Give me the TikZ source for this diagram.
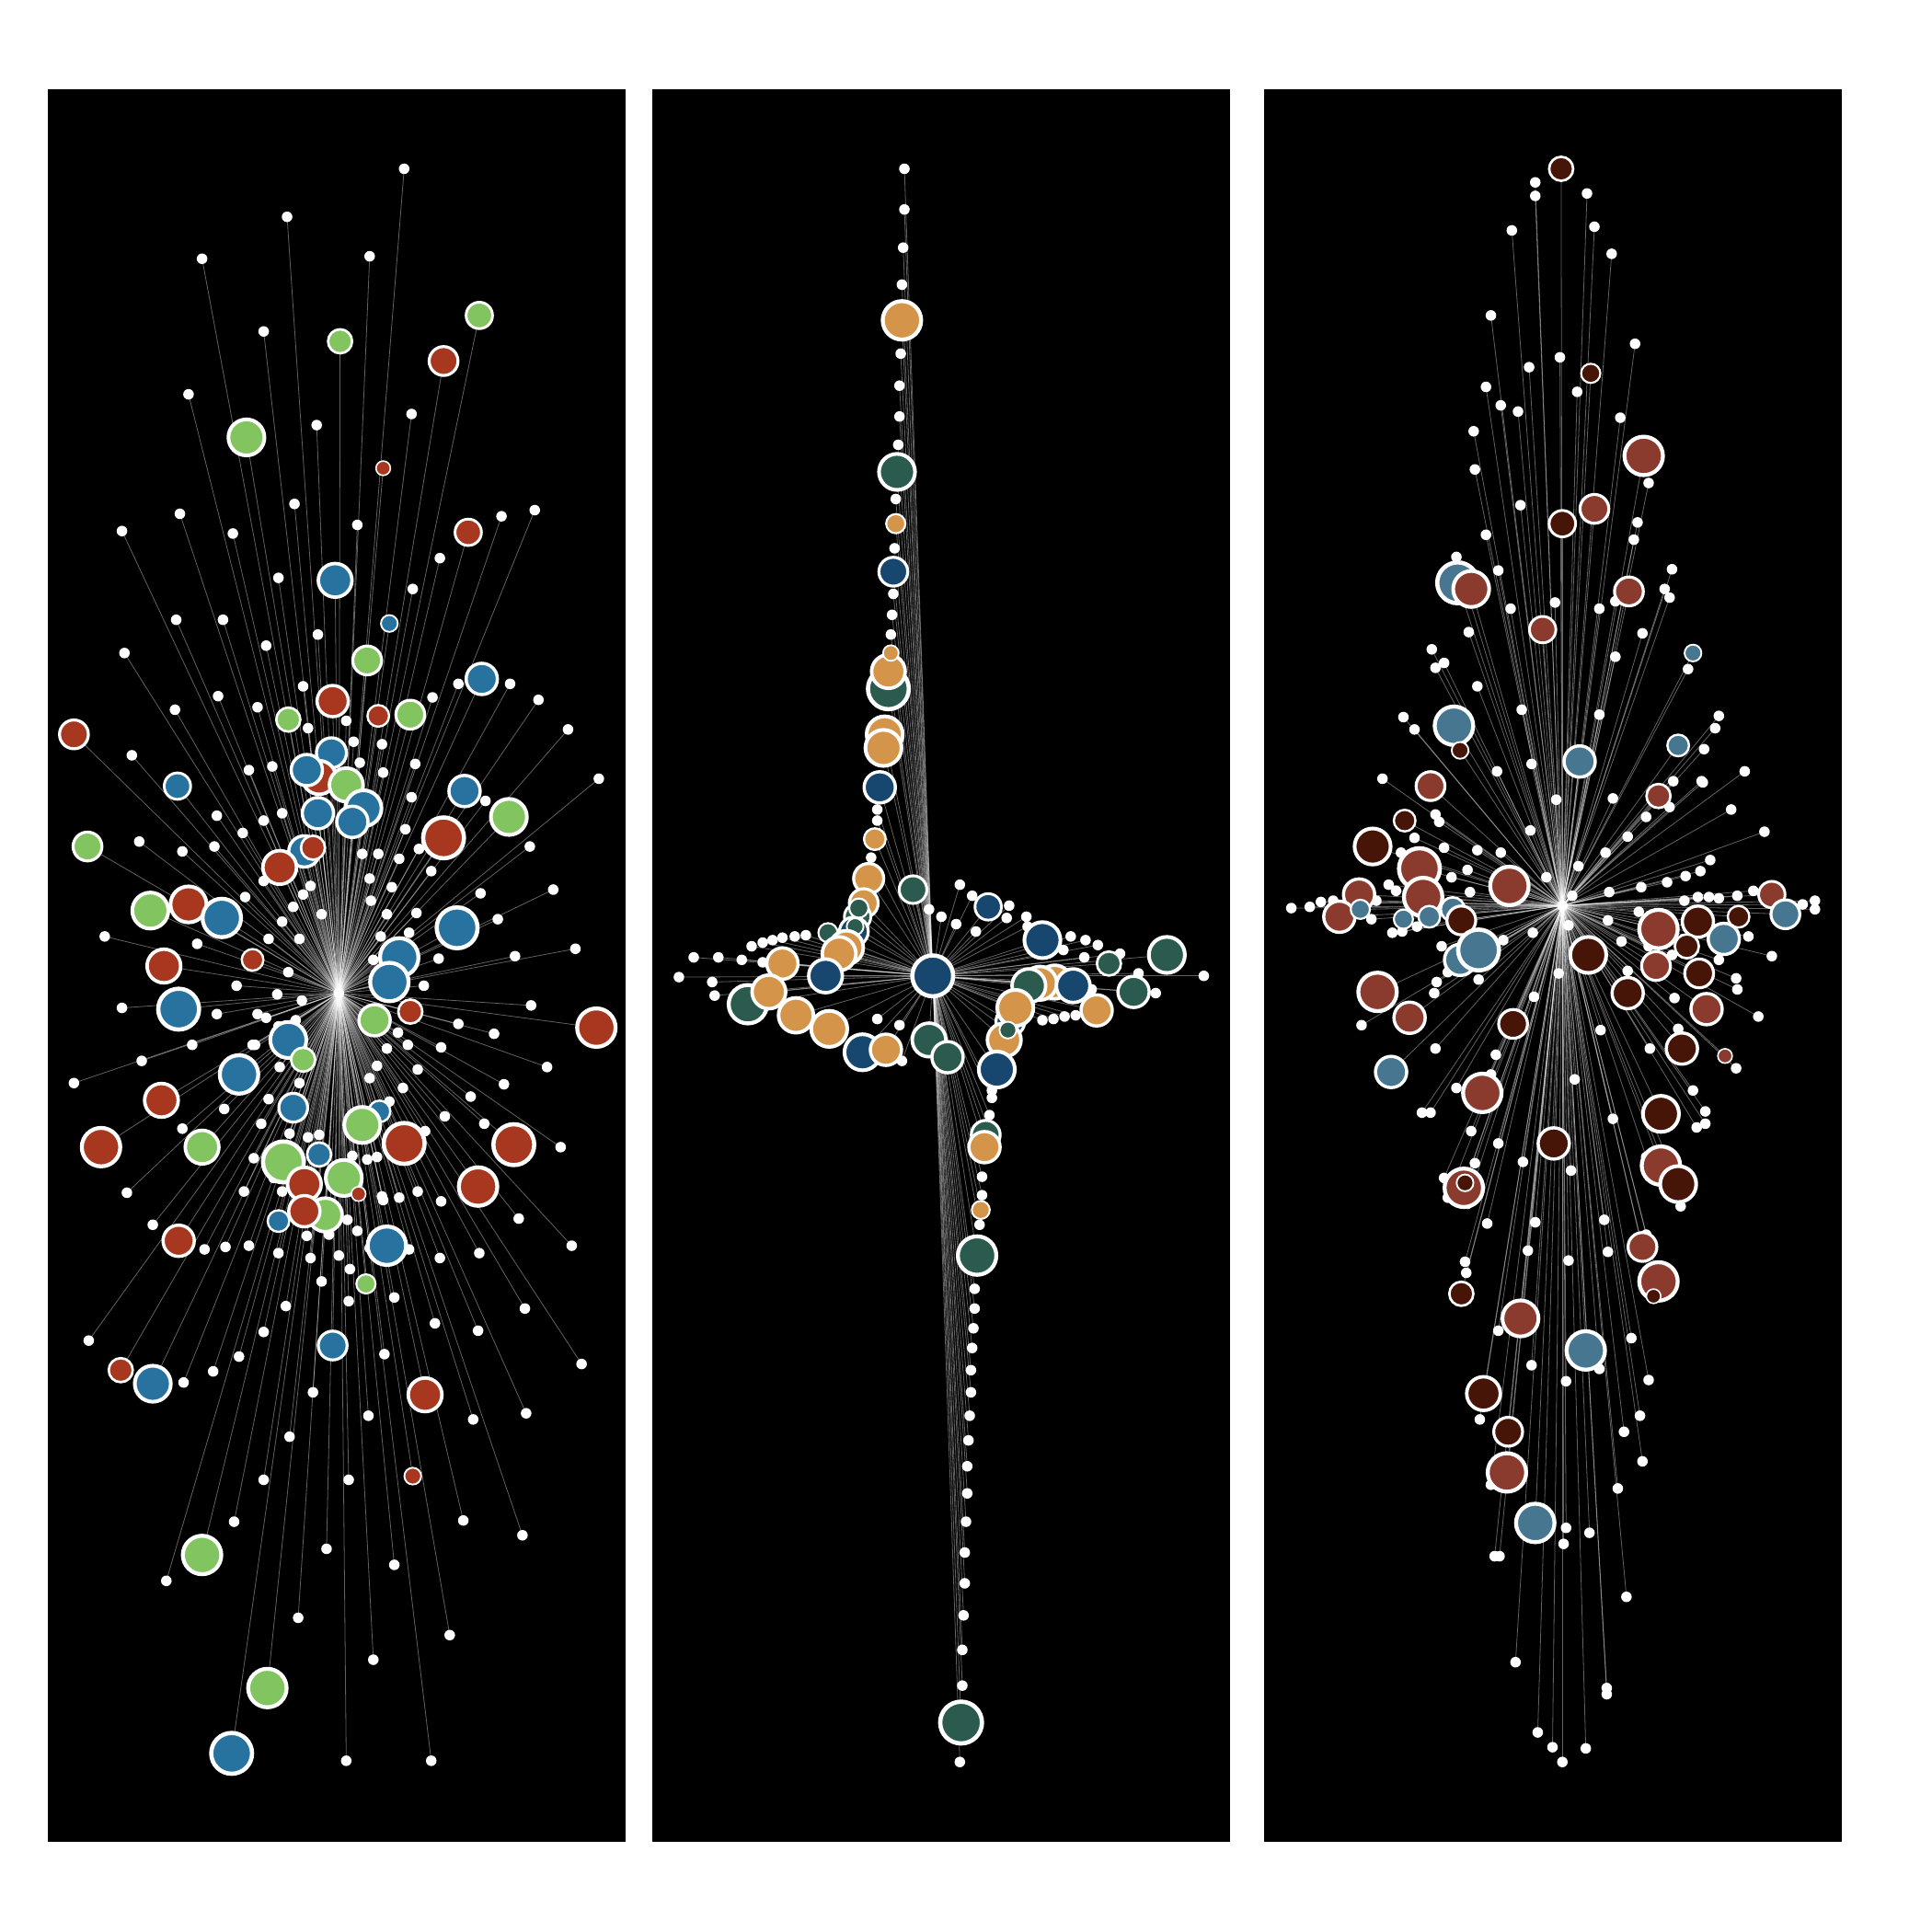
\documentclass[tikz,border=0pt]{standalone}
\pgfdeclarelayer{bg}
\pgfsetlayers{bg,main}
\definecolor{ared}{HTML}{A8371F}
\definecolor{ablue}{HTML}{2872A0}
\definecolor{agreen}{HTML}{82C460}
\definecolor{borange}{HTML}{D4954A}
\definecolor{bteal}{HTML}{2B5A4E}
\definecolor{bnavy}{HTML}{17466E}
\definecolor{cred}{HTML}{8B3A2E}
\definecolor{cbrown}{HTML}{461508}
\definecolor{cblue}{HTML}{477690}
\tikzset{
  wd/.style={circle,fill=white,inner sep=0pt,minimum size=8.6pt},
  cn/.style n args={2}{circle,fill=#2,draw=white,line width={0.2*#1},minimum size={1.95*#1},inner sep=0pt},
  edge/.style={draw=white,line width=0.6pt,opacity=0.38},
  panel/.style={fill=black}}
\def\Awhite{328/137, 233/176, 164/210, 300/208, 214/269, 153/320, 334/336, 257/345, 239/409, 99/431, 146/417, 189/433, 290/426, 407/419, 434/414, 357/453, 226/469, 335/478, 143/503, 101/530, 181/503, 216/524, 258/515, 177/565, 142/576, 209/574, 246/557, 351/566, 437/568, 372/555, 414/555, 461/592, 107/613, 202/625, 176/662, 113/683, 148/691, 174/687, 214/666, 229/660, 340/689, 390/725, 350/707, 404/746, 449/722, 430/687, 486/632, 85/760, 160/766, 218/762, 243/762, 261/742, 300/713, 318/720, 338/741, 356/778, 418/776, 467/770, 99/818, 176/823, 209/823, 344/800, 372/831, 431/816, 115/861, 156/848, 207/848, 226/833, 314/851, 331/848, 358/850, 409/880, 444/866, 60/879, 148/916, 212/912, 218/892, 339/868, 382/890, 345/918, 393/912, 455/931, 103/968, 198/967, 222/956, 310/971, 339/967, 358/975, 421/989, 124/994, 166/1014, 183/1012, 202/1011, 226/1017, 252/1021, 275/1019, 261/1040, 300/1013, 357/1021, 389/1017, 464/1011, 232/1060, 283/1056, 320/1053, 426/1062, 72/1088, 214/1081, 353/1074, 388/1080, 194/1101, 312/1099, 149/1122, 173/1113, 472/1107, 254/1130, 235/1166, 299/1149, 384/1152, 427/1147, 214/1201, 283/1201, 376/1234, 424/1246, 190/1235, 265/1257, 320/1270, 135/1283, 242/1313, 365/1327, 303/1347, 281/1429, 350/1429, 250/591, 281/585, 287/602, 310/604, 337/620, 311/627, 292/619, 221/622, 334/647, 394/650, 197/676, 329/673, 294/693, 307/693, 324/697, 214/715, 252/719, 246/726, 199/728, 238/736, 301/731, 229/748, 314/742, 309/760, 332/757, 192/800, 225/807, 245/812, 303/779, 216/826, 240/828, 234/789, 401/839, 323/838, 205/848, 306/865, 227/866, 300/875, 327/883, 243/879, 182/900, 316/894, 361/906, 235/920, 250/923, 259/921, 206/940, 286/938, 298/941, 306/939, 229/967, 311/974, 324/972, 282/990, 290/999, 249/1003, 267/1002, 284/1030, 332/1014}
\def\Acol{389/256/11/agreen, 276/277/10/agreen, 360/293/12/ared, 200/355/15/agreen, 311/380/6/ared, 380/432/11/ared, 272/471/14/ablue, 316/506/7/ablue, 298/536/12/agreen, 391/551/13/ablue, 270/569/13/ared, 307/581/9/ared, 234/584/10/agreen, 333/580/12/agreen, 60/596/12/ared, 144/638/11/ablue, 377/642/13/ablue, 269/611/12.5/ablue, 259/631/14/ared, 249/625/13/ablue, 281/637/14/agreen, 258/660/13/ablue, 295/656/15/ablue, 286/667/13/ablue, 413/663/15/agreen, 360/680/17/ared, 71/687/12/agreen, 247/691/13/ablue, 254/688/10/ared, 227/704/14/ared, 122/739/15/agreen, 153/734/15/ared, 180/745/16/ablue, 371/753/17/ablue, 133/784/14/ared, 205/779/9/ared, 324/777/16/ablue, 316/797/16/ablue, 145/819/17/ablue, 304/828/13/agreen, 333/821/10/ared, 484/834/16/ared, 234/844/15/ablue, 246/860/10/agreen, 194/872/16/ablue, 131/893/14/ared, 238/899/12/ablue, 308/902/9/ablue, 294/913/15/agreen, 82/931/16/ared, 164/931/14/agreen, 328/928/17/ared, 417/929/17/ared, 230/943/17/agreen, 259/937/10/ablue, 279/956/15/agreen, 264/986/14/agreen, 247/961/14/ared, 247/983/13/ared, 291/969/6/ared, 388/963/16/ared, 226/991/9/ablue, 145/1007/13/ared, 314/1011/16/ablue, 297/1042/8/agreen, 270/1092/12/ablue, 98/1112/10/ared, 124/1123/15/ablue, 345/1132/14/ared, 335/1198/7/ared, 164/1262/16/agreen, 217/1370/16/agreen, 188/1423/17/ablue}
\def\Bwhite{734/137, 734/170, 733/201, 732/231, 731/287, 730/313, 730/338, 729/361, 727/405, 726/445, 725/482, 724/499, 723/515, 712/657, 712/666, 707/696, 791/1046, 791/1062, 790/1078, 789/1094, 788/1112, 788/1130, 787/1149, 786/1169, 785/1190, 785/1212, 784/1235, 783/1260, 783/1285, 782/1311, 781/1339, 781/1368, 779/1430, 795/994, 797/955, 797/970, 805/885, 805/891, 803/905, 801/913, 654/759, 645/760, 635/761, 627/763, 619/765, 602/779, 619/781, 563/777, 583/777, 551/793, 578/797, 580/808, 598/808, 610/768, 712/827, 730/832, 732/861, 754/738, 764/744, 779/718, 789/727, 776/750, 792/756, 819/735, 817/745, 833/744, 834/752, 869/760, 881/763, 891/767, 880/777, 863/771, 909/774, 924/790, 938/806, 977/792, 886/803, 846/828, 855/827, 864/825, 873/824}
\def\Bcol{732/260/16/borange, 728/383/15/bteal, 727/425/8/borange, 725/464/12/bnavy, 721/559/17/bteal, 721/545/14/borange, 723/530/6.5/borange, 718/596/15/borange, 717/607/15/borange, 714/639/13/bnavy, 710/681/9/borange, 705/713/12.5/borange, 701/733/12/borange, 696/744/11/bteal, 693/756/12/bnavy, 697/737/8/bteal, 694/752/7/bteal, 672/757/8/bteal, 687/769/14/borange, 681/774/14/borange, 670/792/14/bnavy, 635/782/13/borange, 607/815/16/bteal, 624/805/14/borange, 646/824/14.5/borange, 673/835/15/borange, 700/854/15/bnavy, 719/852/13/borange, 741/722/11.5/bteal, 754/844/14/bteal, 769/858/13/bteal, 802/736/11/bnavy, 846/763/15/bnavy, 900/782/10/bteal, 947/775/15/bteal, 920/805/13/bteal, 890/820/13/borange, 856/797/14/borange, 844/798/14/borange, 871/800/14/bnavy, 835/800/14/bteal, 820/829/12/bnavy, 824/818/15/borange, 815/844/14/borange, 818/836/7/bteal, 809/868/15/bnavy, 800/921/12/bteal, 799/931/13/borange, 796/982/7.5/borange, 793/1019/16/bteal, 780/1398/17.4/bteal}
\def\Cwhite{1246/148, 1246/159, 1288/157, 1227/187, 1294/184, 1308/206, 1210/256, 1327/279, 1241/298, 1266/290, 1280/318, 1206/314, 1218/329, 1232/334, 1315/339, 1196/350, 1197/381, 1338/392, 1234/410, 1329/424, 1326/438, 1206/434, 1182/452, 1216/463, 1357/462, 1351/478, 1355/485, 1226/494, 1262/489, 1298/494, 1311/488, 1192/513, 1333/514, 1162/527, 1165/542, 1172/538, 1370/543, 1311/533, 1199/557, 1298/580, 1235/576, 1395/581, 1139/582, 1392/591, 1148/592, 1383/608, 1381/634, 1243/620, 1215/626, 1122/632, 1358/634, 1263/649, 1309/648, 1416/626, 1405/657, 1165/661, 1168/667, 1336/663, 1355/655, 1148/680, 1321/679, 1199/690, 1432/675, 1388/698, 1368/711, 1303/692, 1242/674, 1218/692, 1172/688, 1137/692, 1127/718, 1072/732, 1063/736, 1048/737, 1082/731, 1117/731, 1133/723, 1191/706, 1178/712, 1193/724, 1255/712, 1281/703, 1276/727, 1306/724, 1332/720, 1353/716, 1380/707, 1367/731, 1378/728, 1387/728, 1395/729, 1410/727, 1423/723, 1463/734, 1473/738, 1473/731, 1273/751, 1305/747, 1244/757, 1316/764, 1220/763, 1170/768, 1175/789, 1166/797, 1164/806, 1150/752, 1130/757, 1138/756, 1113/746, 1265/790, 1245/809, 1330/740, 1419/760, 1338/768, 1395/779, 1438/776, 1409/794, 1200/795, 1321/788, 1357/775, 1105/832, 1410/803, 1427/825, 1299/836, 1362/835, 1359/810, 1339/851, 1165/851, 1214/856, 1278/876, 1409/867, 1210/872, 1182/883, 1374/885, 1154/903, 1161/903, 1384/902, 1309/908, 1194/918, 1384/912, 1377/915, 1236/943, 1216/928, 1275/950, 1197/944, 1336/939, 1172/956, 1175/972, 1364/979, 1191/977, 1246/992, 1302/990, 1207/993, 1240/1015, 1273/1023, 1305/1016, 1189/1024, 1190/1033, 1336/1002, 1216/1080, 1324/1086, 1243/1108, 1271/1121, 1298/1111, 1338/1120, 1201/1152, 1331/1149, 1318/1162, 1333/1186, 1210/1205, 1313/1208, 1271/1240, 1269/1253, 1290/1244, 1213/1263, 1217/1263, 1320/1296, 1230/1349, 1304/1370, 1304/1375, 1248/1406, 1260/1418, 1268/1430, 1287/1419, 1382/635}
\def\Ccol{1267/137/10/cbrown, 1291/303/8/cbrown, 1334/370/16/cred, 1294/413/12/cred, 1268/425/11/cbrown, 1183/473/17/cblue, 1194/478/15/cred, 1322/480/12/cred, 1252/511/11/cred, 1374/530/7/cblue, 1180/589/16/cblue, 1185/609/7/cbrown, 1282/618/13/cblue, 1362/605/9/cblue, 1161/638/12/cred, 1346/646/10/cred, 1140/666/9/cbrown, 1114/687/15/cbrown, 1152/705/17/cred, 1155/728/16/cred, 1225/719/16/cred, 1103/726/13/cred, 1087/744/13/cred, 1104/738/8/cblue, 1139/746/8/cblue, 1160/744/9/cblue, 1179/738/10/cblue, 1186/747/12/cbrown, 1438/726/11/cred, 1411/744/9/cbrown, 1449/742/12/cblue, 1346/754/16/cred, 1378/748/13/cbrown, 1369/768/10/cbrown, 1399/762/13/cblue, 1185/779/13/cblue, 1200/771/17/cblue, 1289/775/15/cbrown, 1344/784/12/cred, 1379/790/12/cbrown, 1118/805/16/cred, 1321/806/13/cbrown, 1385/819/13/cred, 1144/826/13/cred, 1228/831/12/cbrown, 1365/851/13/cbrown, 1400/857/6/cred, 1129/870/13/cblue, 1203/887/16/cred, 1348/904/15/cbrown, 1261/928/13/cbrown, 1348/946/16/cred, 1362/961/15/cbrown, 1188/964/16/cred, 1189/960/7/cbrown, 1333/1012/12/cred, 1346/1040/16/cred, 1342/1052/6/cbrown, 1186/1050/10/cbrown, 1234/1070/15/cred, 1287/1096/16/cblue, 1204/1131/14/cbrown, 1224/1162/12/cbrown, 1223/1195/16/cred, 1246/1236/16/cblue}
\begin{document}
\begin{tikzpicture}[x=1pt,y=-1pt]
\useasboundingbox (0,0) rectangle (1568,1568);
\begin{pgfonlayer}{bg}
  \fill[white] (0,0) rectangle (1568,1568);
  \fill[panel] (38.8,72.4) rectangle (507.7,1494.8);
  \fill[panel] (529.4,72.4) rectangle (998.2,1494.8);
  \fill[panel] (1026,72.4) rectangle (1494.8,1494.8);
\end{pgfonlayer}
% ---------- panel 1 ----------
\node[wd] (h1) at (275,806) {};
\foreach \x/\y [count=\i] in \Awhite {\node[wd] (a\i) at (\x,\y) {}; \xdef\nAw{\i}}
\foreach \x/\y/\r/\col [count=\i] in \Acol {\node[cn={\r}{\col}] (b\i) at (\x,\y) {}; \xdef\nAc{\i}}
% ---------- panel 2 ----------
\foreach \x/\y [count=\i] in \Bwhite {\node[wd] (c\i) at (\x,\y) {}; \xdef\nBw{\i}}
\foreach \x/\y/\r/\col [count=\i] in \Bcol {\node[cn={\r}{\col}] (d\i) at (\x,\y) {}; \xdef\nBc{\i}}
\node[cn={17}{bnavy}] (h2) at (757,792) {};
% ---------- panel 3 ----------
\foreach \x/\y [count=\i] in \Cwhite {\node[wd] (e\i) at (\x,\y) {}; \xdef\nCw{\i}}
\foreach \x/\y/\r/\col [count=\i] in \Ccol {\node[cn={\r}{\col}] (f\i) at (\x,\y) {}; \xdef\nCc{\i}}
\node[wd] (h3) at (1268,735) {};
% ---------- edges ----------
\begin{pgfonlayer}{bg}
  \foreach \i in {1,...,\nAw} {\draw[edge] (h1.center) -- (a\i.center);}
  \foreach \i in {1,...,\nAc} {\draw[edge] (h1.center) -- (b\i.center);}
  \foreach \i in {1,...,\nBw} {\draw[edge] (h2.center) -- (c\i.center);}
  \foreach \i in {1,...,\nBc} {\draw[edge] (h2.center) -- (d\i.center);}
  \foreach \i in {1,...,\nCw} {\draw[edge] (h3.center) -- (e\i.center);}
  \foreach \i in {1,...,\nCc} {\draw[edge] (h3.center) -- (f\i.center);}
\end{pgfonlayer}
\end{tikzpicture}
\end{document}
